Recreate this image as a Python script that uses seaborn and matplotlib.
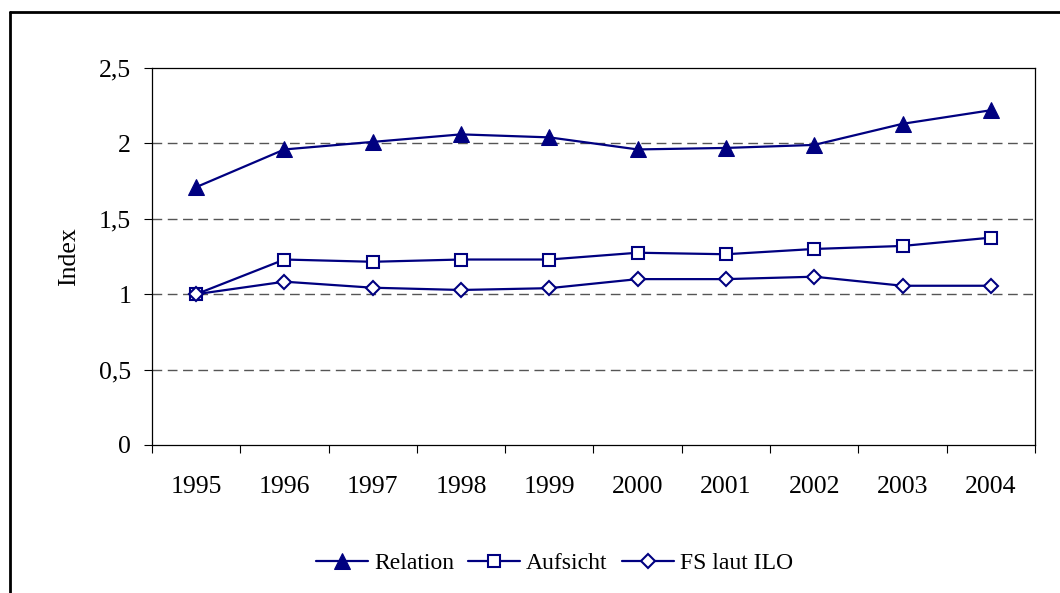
import numpy as np
import matplotlib.pyplot as plt
import seaborn as sns
from matplotlib.lines import Line2D
from matplotlib.ticker import FuncFormatter

# --- DATA ---
years = ["1995", "1996", "1997", "1998", "1999", "2000", "2001", "2002", "2003", "2004"]
relation = [1.71, 1.96, 2.01, 2.06, 2.04, 1.96, 1.97, 1.99, 2.13, 2.22]
aufsicht = [1.00, 1.23, 1.215, 1.23, 1.23, 1.275, 1.265, 1.30, 1.32, 1.375]
fs_ilo = [1.00, 1.083, 1.043, 1.028, 1.04, 1.10, 1.10, 1.116, 1.056, 1.056]

NAVY = "#000080"

sns.set_style("white")
plt.rcParams['font.family'] = ['Liberation Serif', 'DejaVu Serif']
plt.rcParams.update({"text.color": "black", "axes.labelcolor": "black",
                     "xtick.color": "black", "ytick.color": "black"})

fig = plt.figure(figsize=(10.6, 5.93), dpi=100)
ax = fig.add_axes([0.1434, 0.2496, 0.8330, 0.6357])

x = np.arange(len(years))
sns.lineplot(x=x, y=relation, ax=ax, color=NAVY, lw=1.6, marker="^", markersize=11,
             markerfacecolor=NAVY, markeredgecolor=NAVY, label="Relation")
sns.lineplot(x=x, y=aufsicht, ax=ax, color=NAVY, lw=1.6, marker="s", markersize=8,
             markerfacecolor="white", markeredgecolor=NAVY, markeredgewidth=1.5, label="Aufsicht")
sns.lineplot(x=x, y=fs_ilo, ax=ax, color=NAVY, lw=1.6, marker="D", markersize=7,
             markerfacecolor="white", markeredgecolor=NAVY, markeredgewidth=1.5, label="FS laut ILO")

ax.set_xlim(-0.5, len(years) - 0.5)
ax.set_ylim(0, 2.5)

# y axis
ax.set_yticks([0, 0.5, 1, 1.5, 2, 2.5])
ax.yaxis.set_major_formatter(FuncFormatter(lambda v, p: f"{v:g}".replace(".", ",")))
ax.tick_params(axis="y", direction="out", length=6, width=0.8, pad=9, labelsize=18.5, left=True)
for yv in [0.5, 1, 1.5, 2]:
    ax.axhline(yv, color="#555555", lw=1, ls=(0, (7, 4)), zorder=0)

# x axis: labels at centres, tick marks between categories
ax.set_xticks(x)
ax.set_xticklabels(years)
ax.tick_params(axis="x", which="major", length=0, pad=22, labelsize=18.5)
ax.set_xticks(np.arange(-0.5, len(years)), minor=True)
ax.tick_params(axis="x", which="minor", direction="out", length=6, width=0.8, bottom=True)

ax.set_ylabel("Index", fontsize=18.5, labelpad=14)
ax.set_xlabel("")

for side in ["left", "bottom", "top", "right"]:
    ax.spines[side].set_visible(True)
    ax.spines[side].set_color("black")
    ax.spines[side].set_linewidth(0.9)

ax.legend(loc="center", bbox_to_anchor=(0.523, 0.05), bbox_transform=fig.transFigure,
          ncol=3, frameon=False, fontsize=17, handlelength=2.2, handletextpad=0.25,
          columnspacing=0.6)

# outer chart border (left and top only visible)
fig.add_artist(Line2D([10 / 1060, 10 / 1060], [0, 1 - 12 / 593], transform=fig.transFigure,
                      color="black", lw=2))
fig.add_artist(Line2D([10 / 1060, 1], [1 - 12 / 593, 1 - 12 / 593], transform=fig.transFigure,
                      color="black", lw=2))

plt.savefig("out.png", dpi=100)
